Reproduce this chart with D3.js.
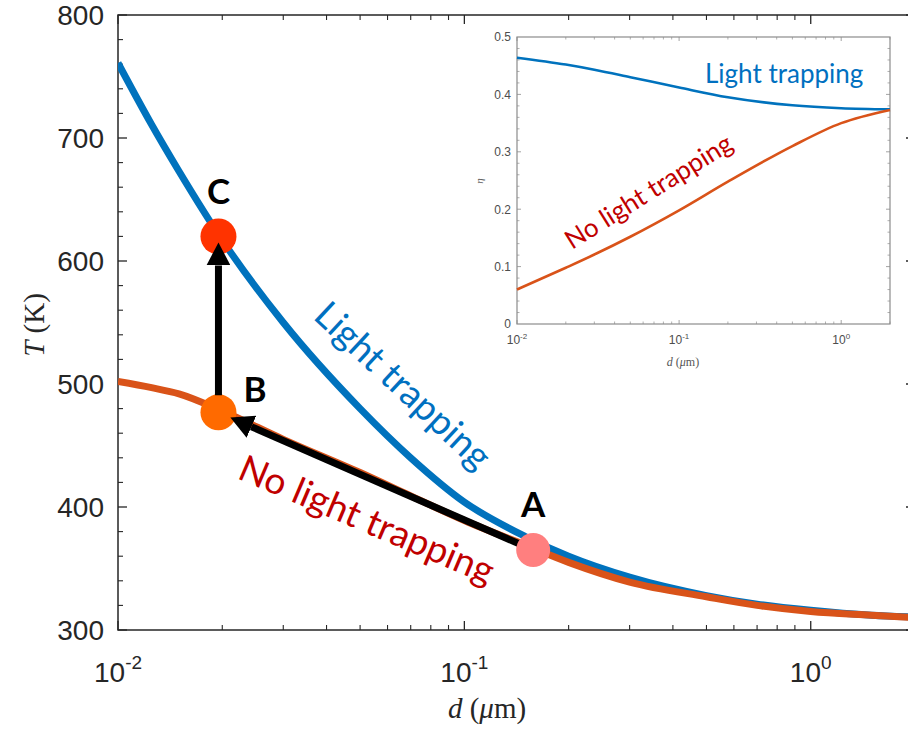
<!DOCTYPE html>
<html lang="en">
<head>
  <meta charset="UTF-8">
  <title>T vs d</title>
  <style>
    html, body { margin: 0; background: #fff; }
    svg { display: block; }
  </style>
</head>
<body>
  <svg id="chart" width="908" height="731"></svg>
  <script src="https://cdn.jsdelivr.net/npm/d3@7"></script>
  <script>
    // main plot data: temperature vs thickness
    var dMain = [0.01, 0.0125, 0.015, 0.02, 0.03, 0.05, 0.07, 0.1, 0.15, 0.2, 0.3, 0.5, 0.7, 1, 1.5, 2]
    var tTrap = [761, 711, 673, 617, 550, 480, 440, 404, 376, 360, 343, 328, 321, 316, 312, 310.5]
    var tNoTrap = [502, 497, 492, 478, 455, 428, 409, 389, 369, 355, 339, 327, 320, 315, 312, 310]

    // inset data: efficiency vs thickness
    var dInset = [0.01, 0.02, 0.03, 0.05, 0.1, 0.2, 0.5, 1, 2]
    var etaTrap = [0.464, 0.452, 0.443, 0.43, 0.412, 0.395, 0.381, 0.376, 0.374]
    var etaNoTrap = [0.06, 0.098, 0.121, 0.152, 0.198, 0.248, 0.31, 0.35, 0.373]

    // operating points
    var pointNames = ['A', 'B', 'C']
    var pointD = [0.158, 0.0195, 0.0195]
    var pointT = [365, 477, 620]
    var pointColors = ['#FF7F7F', '#FF6A00', '#FF3300']

    var yTicks = [300, 400, 500, 600, 700, 800]
    var xTicks = [0.01, 0.1, 1]
    var xTickExp = ['-2', '-1', '0']
    var etaTicks = [0, 0.1, 0.2, 0.3, 0.4, 0.5]

    var blue = '#0072BD', orange = '#D95319'
    var axisColor = '#262626'

    var svg = d3.select('#chart')

    // ---------- main axes ----------
    var x = d3.scaleLog().domain([0.01, 2]).range([118, 915])
    var y = d3.scaleLinear().domain([300, 800]).range([630, 15])

    var minorX = []
    for (var e = -2; e <= 0; e++) {
      for (var k = 2; k <= 9; k++) {
        var v = k * Math.pow(10, e)
        if (v <= 2) minorX.push(v)
      }
    }
    var minorY = d3.range(300, 801, 20).filter(v => v % 100 !== 0)

    var main = svg.append('g')

    function drawTicks(g, scaleX, scaleY, xs, ys, len, color, width) {
      var r0 = scaleX.range(), d0 = scaleY.range()
      g.append('g').selectAll('line').data(xs).join('line')
        .attr('x1', d => scaleX(d)).attr('x2', d => scaleX(d))
        .attr('y1', d0[0]).attr('y2', d0[0] - len)
        .attr('stroke', color).attr('stroke-width', width)
      g.append('g').selectAll('line').data(xs).join('line')
        .attr('x1', d => scaleX(d)).attr('x2', d => scaleX(d))
        .attr('y1', d0[1]).attr('y2', d0[1] + len)
        .attr('stroke', color).attr('stroke-width', width)
      g.append('g').selectAll('line').data(ys).join('line')
        .attr('y1', d => scaleY(d)).attr('y2', d => scaleY(d))
        .attr('x1', r0[0]).attr('x2', r0[0] + len)
        .attr('stroke', color).attr('stroke-width', width)
      g.append('g').selectAll('line').data(ys).join('line')
        .attr('y1', d => scaleY(d)).attr('y2', d => scaleY(d))
        .attr('x1', r0[1]).attr('x2', r0[1] - len)
        .attr('stroke', color).attr('stroke-width', width)
    }

    drawTicks(main, x, y, xTicks, yTicks, 9, axisColor, 1.3)
    drawTicks(main, x, y, minorX, minorY, 5, axisColor, 1.1)

    main.append('rect')
      .attr('x', 118).attr('y', 15)
      .attr('width', 915 - 118).attr('height', 630 - 15)
      .attr('fill', 'none').attr('stroke', axisColor).attr('stroke-width', 1.5)

    // y tick labels
    main.append('g').selectAll('text').data(yTicks).join('text')
      .attr('x', 104).attr('y', d => y(d)).attr('dy', '0.36em')
      .attr('text-anchor', 'end')
      .attr('font-family', 'Liberation Sans, Arial, sans-serif')
      .attr('font-size', 28).attr('fill', axisColor)
      .text(d => d)

    // x tick labels with superscript exponent
    var xl = main.append('g').selectAll('text').data(xTicks).join('text')
      .attr('x', d => x(d)).attr('y', 682)
      .attr('text-anchor', 'middle')
      .attr('font-family', 'Liberation Sans, Arial, sans-serif')
      .attr('font-size', 28).attr('fill', axisColor)
    xl.append('tspan').text('10')
    xl.append('tspan').attr('dy', -13).attr('font-size', 19).text((d, i) => xTickExp[i])

    // axis titles
    var xt = main.append('text')
      .attr('x', 487).attr('y', 718).attr('text-anchor', 'middle')
      .attr('font-family', 'Liberation Serif, serif').attr('font-size', 29).attr('fill', axisColor)
    xt.append('tspan').attr('font-style', 'italic').text('d')
    xt.append('tspan').text(' (')
    xt.append('tspan').attr('font-style', 'italic').text('μ')
    xt.append('tspan').text('m)')

    var yt = main.append('text')
      .attr('transform', 'translate(44,325) rotate(-90)').attr('text-anchor', 'middle')
      .attr('font-family', 'Liberation Serif, serif').attr('font-size', 29).attr('fill', axisColor)
    yt.append('tspan').attr('font-style', 'italic').text('T')
    yt.append('tspan').text(' (K)')

    // curves
    svg.append('clipPath').attr('id', 'clipMain')
      .append('rect').attr('x', 118).attr('y', 15).attr('width', 797).attr('height', 615)

    var lineMain = d3.line()
      .x(d => x(d[0])).y(d => y(d[1]))
      .curve(d3.curveMonotoneX)

    var curves = main.append('g').attr('clip-path', 'url(#clipMain)')
    curves.append('path')
      .attr('d', lineMain(d3.zip(dMain, tTrap)))
      .attr('fill', 'none').attr('stroke', blue).attr('stroke-width', 7)
    curves.append('path')
      .attr('d', lineMain(d3.zip(dMain, tNoTrap)))
      .attr('fill', 'none').attr('stroke', orange).attr('stroke-width', 7)

    // curve labels
    main.append('text')
      .attr('transform', 'translate(312,318) rotate(43)')
      .attr('font-family', 'Lato, sans-serif').attr('font-size', 37).attr('fill', '#0070C0')
      .text('Light trapping')
    main.append('text')
      .attr('transform', 'translate(236,478) rotate(23)')
      .attr('font-family', 'Lato, sans-serif').attr('font-size', 37).attr('fill', '#C00000')
      .text('No light trapping')

    // points and arrows
    var pts = pointNames.map((n, i) => ({ name: n, x: x(pointD[i]), y: y(pointT[i]), color: pointColors[i] }))
    var A = pts[0], B = pts[1], C = pts[2]

    svg.append('defs').append('marker')
      .attr('id', 'head').attr('markerUnits', 'userSpaceOnUse')
      .attr('markerWidth', 24).attr('markerHeight', 24)
      .attr('refX', 0).attr('refY', 12).attr('orient', 'auto')
      .append('path').attr('d', 'M0,0 L23,12 L0,24 Z').attr('fill', '#000')

    function arrow(from, to, startOff, tipOff) {
      var dx = to.x - from.x, dy = to.y - from.y
      var len = Math.sqrt(dx * dx + dy * dy)
      var ux = dx / len, uy = dy / len
      var tipX = to.x - ux * tipOff, tipY = to.y - uy * tipOff
      main.append('line')
        .attr('x1', from.x + ux * startOff).attr('y1', from.y + uy * startOff)
        .attr('x2', tipX - ux * 23).attr('y2', tipY - uy * 23)
        .attr('stroke', '#000').attr('stroke-width', 7)
        .attr('marker-end', 'url(#head)')
    }

    var dots = main.append('g')
    dots.selectAll('circle').data([B, C]).join('circle')
      .attr('cx', d => d.x).attr('cy', d => d.y).attr('r', 18)
      .attr('fill', d => d.color)

    arrow(B, C, 17, 6)
    arrow(A, B, 0, 13)

    main.append('circle')
      .attr('cx', A.x).attr('cy', A.y).attr('r', 17).attr('fill', A.color)

    var letterDx = [0, 25, 0], letterDy = [-33, -10, -32], letterAnchor = ['middle', 'start', 'middle']
    main.append('g').selectAll('text').data(pts).join('text')
      .attr('x', (d, i) => d.x + letterDx[i]).attr('y', (d, i) => d.y + letterDy[i])
      .attr('text-anchor', (d, i) => letterAnchor[i])
      .attr('font-family', 'Lato, sans-serif').attr('font-weight', 'bold').attr('font-size', 35)
      .attr('fill', '#000')
      .text(d => d.name)

    // ---------- inset ----------
    var xi = d3.scaleLog().domain([0.01, 2]).range([517, 890])
    var yi = d3.scaleLinear().domain([0, 0.5]).range([324, 37])
    var inset = svg.append('g')
    var insetAxis = '#8c8c8c'

    inset.append('rect')
      .attr('x', 517).attr('y', 37).attr('width', 890 - 517).attr('height', 324 - 37)
      .attr('fill', '#fff')

    var minorEta = d3.range(0, 0.501, 0.02).filter(v => Math.abs(v * 10 - Math.round(v * 10)) > 1e-6)
    drawTicks(inset, xi, yi, xTicks, etaTicks.slice(1, 5), 4, insetAxis, 0.8)
    drawTicks(inset, xi, yi, minorX, minorEta, 2.5, insetAxis, 0.7)

    inset.append('rect')
      .attr('x', 517).attr('y', 37).attr('width', 890 - 517).attr('height', 324 - 37)
      .attr('fill', 'none').attr('stroke', insetAxis).attr('stroke-width', 1.2)

    inset.append('g').selectAll('text').data(etaTicks).join('text')
      .attr('x', 511).attr('y', d => yi(d)).attr('dy', '0.36em')
      .attr('text-anchor', 'end')
      .attr('font-family', 'Liberation Sans, Arial, sans-serif')
      .attr('font-size', 12).attr('fill', '#4d4d4d')
      .text(d => d)

    var xli = inset.append('g').selectAll('text').data(xTicks).join('text')
      .attr('x', d => xi(d)).attr('y', 344)
      .attr('text-anchor', 'middle')
      .attr('font-family', 'Liberation Sans, Arial, sans-serif')
      .attr('font-size', 12).attr('fill', '#4d4d4d')
    xli.append('tspan').text('10')
    xli.append('tspan').attr('dy', -5).attr('font-size', 8).text((d, i) => xTickExp[i])

    var xti = inset.append('text')
      .attr('x', 683).attr('y', 366).attr('text-anchor', 'middle')
      .attr('font-family', 'Liberation Serif, serif').attr('font-size', 12).attr('fill', '#555')
    xti.append('tspan').attr('font-style', 'italic').text('d')
    xti.append('tspan').text(' (')
    xti.append('tspan').attr('font-style', 'italic').text('μ')
    xti.append('tspan').text('m)')

    inset.append('text')
      .attr('transform', 'translate(483,181) rotate(-90)').attr('text-anchor', 'middle')
      .attr('font-family', 'Liberation Serif, serif').attr('font-style', 'italic')
      .attr('font-size', 11).attr('fill', '#555')
      .text('η')

    var lineInset = d3.line()
      .x(d => xi(d[0])).y(d => yi(d[1]))
      .curve(d3.curveMonotoneX)

    inset.append('path')
      .attr('d', lineInset(d3.zip(dInset, etaTrap)))
      .attr('fill', 'none').attr('stroke', blue).attr('stroke-width', 2.6)
    inset.append('path')
      .attr('d', lineInset(d3.zip(dInset, etaNoTrap)))
      .attr('fill', 'none').attr('stroke', orange).attr('stroke-width', 2.6)

    inset.append('text')
      .attr('x', 705).attr('y', 83)
      .attr('font-family', 'Lato, sans-serif').attr('font-size', 26).attr('fill', '#0070C0')
      .text('Light trapping')
    inset.append('text')
      .attr('transform', 'translate(572,250) rotate(-32)')
      .attr('font-family', 'Lato, sans-serif').attr('font-size', 26).attr('fill', '#C00000')
      .text('No light trapping')
  </script>
</body>
</html>
